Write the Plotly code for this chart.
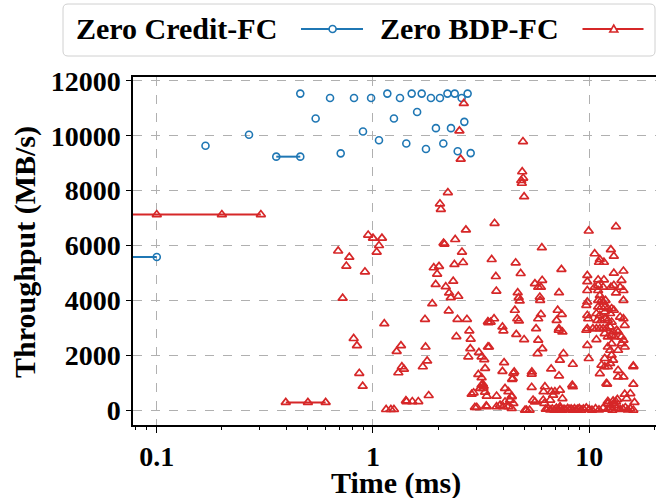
import plotly.graph_objects as go

# ---------------- data (time in ms, throughput in MB/s) ----------------
# Zero Credit-FC : connected runs
blue_run_time = [0.01, 0.1, 0.357, 0.461]
blue_run_tput = [5580, 5580, 9240, 9240]
blue_run_id = [0, 0, 1, 1]
# Zero Credit-FC : isolated samples
blue_time = [0.168, 0.267, 0.461, 0.543, 0.633, 0.709, 0.817, 0.899, 0.98, 1.066,
             1.165, 1.25, 1.333, 1.426, 1.51, 1.60, 1.68, 1.758, 1.854, 1.955,
             2.04, 2.115, 2.21, 2.295, 2.388, 2.465, 2.57, 2.645, 2.74, 2.83]
blue_tput = [9640, 10040, 11540, 10630, 11380, 9360, 11380, 10160, 11380, 9840,
             11540, 10630, 11380, 9720, 11540, 10870, 11540, 9520, 11380, 10280,
             11380, 9720, 11540, 10280, 11540, 9440, 11380, 10510, 11540, 9370]

# Zero BDP-FC : connected runs
red_run_time = [0.01, 0.1, 0.2, 0.303, 0.395, 0.5, 0.604]
red_run_tput = [7130, 7130, 7130, 7130, 280, 280, 280]
red_run_id = [0, 0, 0, 0, 1, 1, 1]

# Zero BDP-FC : isolated samples, early phase (0.7 - 3.5 ms)
red_time_early = [2.63, 2.51, 2.545, 4.94, 4.90, 4.95, 4.85, 4.88, 5.00, 2.22,
                  2.04, 2.06, 3.65, 2.69, 2.40, 2.12, 2.14, 0.95, 1.00, 1.10,
                  1.066, 1.04, 0.69, 0.777, 0.753, 0.918, 0.724, 1.128, 0.814, 0.843,
                  1.347, 1.287, 1.36, 1.39, 1.31, 0.864, 0.896, 1.42, 1.15, 1.21,
                  1.25, 1.43, 1.52, 1.62, 1.81, 2.58, 1.91, 2.02, 1.98, 2.38,
                  2.61, 1.95, 2.35, 2.17, 2.25, 2.29, 2.48, 1.88, 2.24, 1.74,
                  2.46, 2.72, 3.40, 2.79, 2.83, 2.43, 1.75, 2.82, 3.40, 2.76,
                  3.09, 3.18, 3.27, 1.78, 1.70, 3.30, 3.07, 3.18, 3.22, 3.13,
                  3.30, 3.25, 2.86, 2.92, 2.96, 3.02, 3.34]
red_tput_early = [11180, 10180, 9150, 9790, 8690, 8460, 8370, 8270, 7780, 7930,
                  7520, 7320, 6810, 6570, 6220, 6090, 6050, 6380, 6270, 6270,
                  6000, 5760, 5800, 5575, 5250, 5040, 4080, 3150, 2610, 2350,
                  2350, 2140, 1580, 1490, 1360, 1340, 870, 340, 20, 20,
                  20, 310, 310, 310, 530, 5760, 5190, 5240, 4960, 5310,
                  5380, 4580, 4700, 4500, 4270, 4100, 4150, 3880, 3620, 3310,
                  3310, 3310, 3220, 2890, 2590, 2680, 2300, 2240, 2300, 1940,
                  2100, 1940, 1840, 1790, 1580, 1520, 1300, 1180, 945, 790,
                  655, 870, 580, 630, 100, 100, 150]

# Zero BDP-FC : isolated samples, middle phase (3.4 - 8.5 ms)
red_time_mid = [3.54, 4.57, 7.44, 3.70, 4.82, 5.61, 6.06, 5.81, 5.98, 3.72,
                4.67, 4.72, 4.77, 5.91, 5.93, 7.25, 4.53, 4.65, 4.73, 3.50,
                3.63, 3.42, 5.98, 5.81, 7.15, 7.47, 7.07, 7.25, 7.52, 7.23,
                3.97, 4.01, 4.60, 5.00, 5.68, 5.81, 6.07, 5.77, 3.44, 7.60,
                7.32, 4.04, 3.97, 4.50, 4.40, 5.43, 5.42, 6.67, 7.25, 5.42,
                6.24, 6.69, 6.81, 7.32, 7.52, 4.08, 4.23, 4.38, 4.30, 4.08,
                4.46, 4.00, 4.23, 4.38, 3.87, 3.73, 3.36, 4.46, 4.43, 3.18,
                3.24, 3.36, 3.73, 4.38, 6.94, 6.60, 6.13, 8.35, 5.61, 5.05,
                5.13, 5.30, 5.50, 6.20, 8.40, 8.40, 6.15, 6.04, 7.33]
red_tput_mid = [5490, 5370, 5130, 4870, 4980, 4610, 4730, 4480, 4480, 4340,
                4280, 4100, 3980, 4120, 4000, 4280, 3640, 3330, 3250, 3210,
                3330, 3190, 3490, 3330, 3640, 3490, 3270, 2970, 2850, 2910,
                3030, 2890, 2760, 2570, 2970, 2550, 2240, 2060, 2300, 2060,
                1820, 1730, 1410, 1390, 1120, 1390, 1310, 1500, 1250, 830,
                850, 670, 545, 730, 420, 790, 670, 485, 365, 300,
                240, 120, 120, 60, 180, 120, 120, 1340, 1150, 910,
                790, 510, 510, 510, 670, 365, 365, 910, 300, 0,
                0, 0, 365, 245, 1670, 850, 670, 5920, 120]

# Zero BDP-FC : isolated samples, late phase (9.5 - 16.5 ms)
red_time_late = [10.6, 11.1, 11.7, 11.2, 13.0, 12.6, 9.95, 13.3, 9.8, 13.0,
                 14.4, 9.8, 9.8, 11.0, 11.7, 11.0, 11.6, 11.0, 10.6, 12.6,
                 13.0, 14.1, 13.9, 14.4, 13.3, 14.4, 9.8, 11.2, 11.0, 11.4,
                 11.6, 11.9, 11.0, 11.4, 11.8, 12.2, 12.7, 13.0, 11.8, 12.5,
                 9.7, 9.8, 9.9, 9.8, 9.7, 9.8, 9.95, 10.8, 11.2, 10.9,
                 11.4, 11.8, 12.2, 12.7, 13.9, 14.4, 10.4, 10.8, 11.2, 11.6,
                 12.0, 12.5, 12.9, 13.4, 14.6, 11.8, 12.2, 12.7, 13.1, 13.6,
                 14.1, 10.8, 12.2, 12.7, 13.6, 14.1, 14.6, 14.4, 12.5, 12.7,
                 11.8, 12.9, 11.4, 11.8, 12.2, 12.5, 11.2, 13.6, 16.0, 13.6,
                 14.4, 12.1, 16.0, 14.6, 13.5, 13.0, 12.2, 16.2, 12.0, 15.5,
                 14.9, 12.2, 12.9, 13.3, 13.1, 12.6, 16.0]
red_tput_late = [5700, 5390, 5390, 5490, 5610, 5850, 6530, 6690, 4910, 4990,
                 5070, 4680, 4360, 4750, 4750, 4550, 4480, 4360, 4480, 4480,
                 4550, 4730, 4480, 4360, 4270, 4000, 3940, 4180, 4000, 4000,
                 3940, 4000, 3760, 3760, 3760, 3700, 3700, 3640, 3580, 3520,
                 3820, 3455, 3330, 2970, 2910, 2360, 1880, 3520, 3455, 3270,
                 3270, 3330, 3270, 3210, 3390, 3330, 2970, 2970, 2970, 2970,
                 2970, 3030, 2850, 2910, 3090, 2790, 2670, 2730, 2670, 2850,
                 2670, 2570, 2300, 2420, 2180, 2420, 2300, 2550, 2180, 2000,
                 1880, 1820, 1640, 1580, 1580, 1700, 1330, 1450, 1580, 1210,
                 1210, 945, 945, 580, 390, 240, 240, 280, 970, 600,
                 420, 320, 330, 300, 160, 100, 1610]

# Zero BDP-FC : samples sitting near zero throughput (6 - 16 ms)
red_time_zero = [6.30, 6.45, 6.60, 6.75, 6.90, 7.05, 7.20, 7.35, 7.50, 7.65,
                 7.80, 7.95, 8.10, 8.25, 8.40, 8.55, 8.70, 8.85, 9.00, 9.20,
                 9.40, 9.70, 10.0, 10.3, 10.7, 11.1, 11.6, 12.2, 12.8, 13.4,
                 13.9, 14.3, 14.7, 15.1, 15.5, 16.0]
red_tput_zero = [30, 60, 10, 40, 0, 70, 20, 50, 0, 30,
                 10, 60, 20, 40, 0, 50, 10, 30, 60, 0,
                 40, 80, 20, 0, 50, 10, 70, 30, 0, 60,
                 20, 40, 90, 10, 50, 0]

series_names = ["Zero Credit-FC", "Zero BDP-FC"]
x_tick_vals = [0.1, 1, 10]
x_tick_text = ["0.1", "1", "10"]
y_tick_vals = [0, 2000, 4000, 6000, 8000, 10000, 12000]
y_tick_text = ["0", "2000", "4000", "6000", "8000", "10000", "12000"]

BLUE = "#1f77b4"
RED = "#d62728"
FONT = "Liberation Serif"


def runs_with_gaps(times, vals, ids):
    xs, ys = [], []
    prev = None
    for t, v, i in zip(times, vals, ids):
        if prev is not None and i != prev:
            xs.append(None)
            ys.append(None)
        xs.append(t)
        ys.append(v)
        prev = i
    return xs, ys


fig = go.Figure()

bx, by = runs_with_gaps(blue_run_time, blue_run_tput, blue_run_id)
rx, ry = runs_with_gaps(red_run_time, red_run_tput, red_run_id)

mk_blue = dict(symbol="circle-open", size=7, color=BLUE, line=dict(width=1.6, color=BLUE))
mk_red = dict(symbol="triangle-up-open", size=8, color=RED, line=dict(width=1.7, color=RED))

fig.add_trace(go.Scatter(x=bx, y=by, mode="lines+markers", line=dict(color=BLUE, width=2),
                         marker=mk_blue, connectgaps=False, showlegend=False))
fig.add_trace(go.Scatter(x=blue_time, y=blue_tput, mode="markers", marker=mk_blue, showlegend=False))

fig.add_trace(go.Scatter(x=rx, y=ry, mode="lines+markers", line=dict(color=RED, width=2),
                         marker=mk_red, connectgaps=False, showlegend=False))
for tx, ty in [(red_time_early, red_tput_early), (red_time_mid, red_tput_mid),
               (red_time_late, red_tput_late), (red_time_zero, red_tput_zero)]:
    fig.add_trace(go.Scatter(x=tx, y=ty, mode="markers", marker=mk_red, showlegend=False))

# plot-area geometry in pixels
W, H = 656, 498
L, R, T, B = 133, 656, 77, 425
PW, PH = R - L, B - T


def pxx(px):
    return (px - L) / PW


def pxy(py):
    return (B - py) / PH


fig.update_layout(
    width=W, height=H,
    margin=dict(l=L, r=W - R, t=T, b=H - B, pad=0, autoexpand=False),
    paper_bgcolor="white", plot_bgcolor="white",
    font=dict(family=FONT, color="black"),
    showlegend=False,
)

fig.update_xaxes(
    type="log", range=[-1.110, 1.309], automargin=False,
    tickvals=x_tick_vals, ticktext=x_tick_text,
    ticks="outside", ticklen=6, tickwidth=1.3, tickcolor="black",
    tickfont=dict(family=FONT, size=28, weight="bold", color="black"),
    showline=True, linecolor="black", linewidth=1.5, mirror=True,
    showgrid=True, gridcolor="#b0b0b0", griddash="dash", gridwidth=1,
    minor=dict(ticks="outside", ticklen=3.5, tickwidth=1, tickcolor="black",
               dtick="D1", showgrid=False),
    zeroline=False,
)
fig.update_yaxes(
    range=[-545, 12145], automargin=False,
    tickvals=y_tick_vals, ticktext=y_tick_text,
    ticks="outside", ticklen=5, tickwidth=1.3, tickcolor="black",
    tickfont=dict(family=FONT, size=28, weight="bold", color="black"),
    showline=True, linecolor="black", linewidth=1.5, mirror=False,
    showgrid=True, gridcolor="#b0b0b0", griddash="dash", gridwidth=1,
    zeroline=False,
)

# axis titles
fig.add_annotation(text="Time (ms)", xref="paper", yref="paper",
                   x=pxx(396), y=pxy(483), xanchor="center", yanchor="middle",
                   showarrow=False, font=dict(family=FONT, size=30, weight="bold", color="black"))
fig.add_annotation(text="Throughput (MB/s)", xref="paper", yref="paper", textangle=-90,
                   x=pxx(25), y=pxy(252), xanchor="center", yanchor="middle",
                   showarrow=False, font=dict(family=FONT, size=30, weight="bold", color="black"))

# legend (text first, then handle, as in the reference)
bx0, bx1, by0, by1, rad = 63, 655, 4, 56, 5
path = (f"M {pxx(bx0 + rad)},{pxy(by0)} L {pxx(bx1 - rad)},{pxy(by0)} "
        f"Q {pxx(bx1)},{pxy(by0)} {pxx(bx1)},{pxy(by0 + rad)} "
        f"L {pxx(bx1)},{pxy(by1 - rad)} Q {pxx(bx1)},{pxy(by1)} {pxx(bx1 - rad)},{pxy(by1)} "
        f"L {pxx(bx0 + rad)},{pxy(by1)} Q {pxx(bx0)},{pxy(by1)} {pxx(bx0)},{pxy(by1 - rad)} "
        f"L {pxx(bx0)},{pxy(by0 + rad)} Q {pxx(bx0)},{pxy(by0)} {pxx(bx0 + rad)},{pxy(by0)} Z")
fig.add_shape(type="path", path=path, xref="paper", yref="paper",
              line=dict(color="#d0d0d0", width=1), fillcolor="white", layer="above")

LEG_Y = 29
fig.add_annotation(text=series_names[0], xref="paper", yref="paper", x=pxx(74), y=pxy(LEG_Y - 1),
                   xanchor="left", yanchor="middle", showarrow=False,
                   font=dict(family=FONT, size=30, weight="bold", color="black"))
fig.add_annotation(text=series_names[1], xref="paper", yref="paper", x=pxx(378), y=pxy(LEG_Y - 1),
                   xanchor="left", yanchor="middle", showarrow=False,
                   font=dict(family=FONT, size=30, weight="bold", color="black"))

fig.add_shape(type="line", xref="paper", yref="paper", x0=pxx(301), x1=pxx(363),
              y0=pxy(LEG_Y), y1=pxy(LEG_Y), line=dict(color=BLUE, width=2), layer="above")
fig.add_shape(type="circle", xref="paper", yref="paper", x0=pxx(332.6 - 3.5), x1=pxx(332.6 + 3.5),
              y0=pxy(LEG_Y - 3.5), y1=pxy(LEG_Y + 3.5), line=dict(color=BLUE, width=1.6),
              fillcolor="white", layer="above")
fig.add_shape(type="line", xref="paper", yref="paper", x0=pxx(582.5), x1=pxx(643.5),
              y0=pxy(LEG_Y), y1=pxy(LEG_Y), line=dict(color=RED, width=2), layer="above")
cx = 613.8
tri = (f"M {pxx(cx)},{pxy(LEG_Y - 4)} L {pxx(cx - 4)},{pxy(LEG_Y + 3)} "
       f"L {pxx(cx + 4)},{pxy(LEG_Y + 3)} Z")
fig.add_shape(type="path", path=tri, xref="paper", yref="paper",
              line=dict(color=RED, width=1.6), fillcolor="white", layer="above")

fig.write_html(
    "out.html",
    config={"displayModeBar": False},
    post_script="document.body.style.margin='0';document.body.style.padding='0';",
)
